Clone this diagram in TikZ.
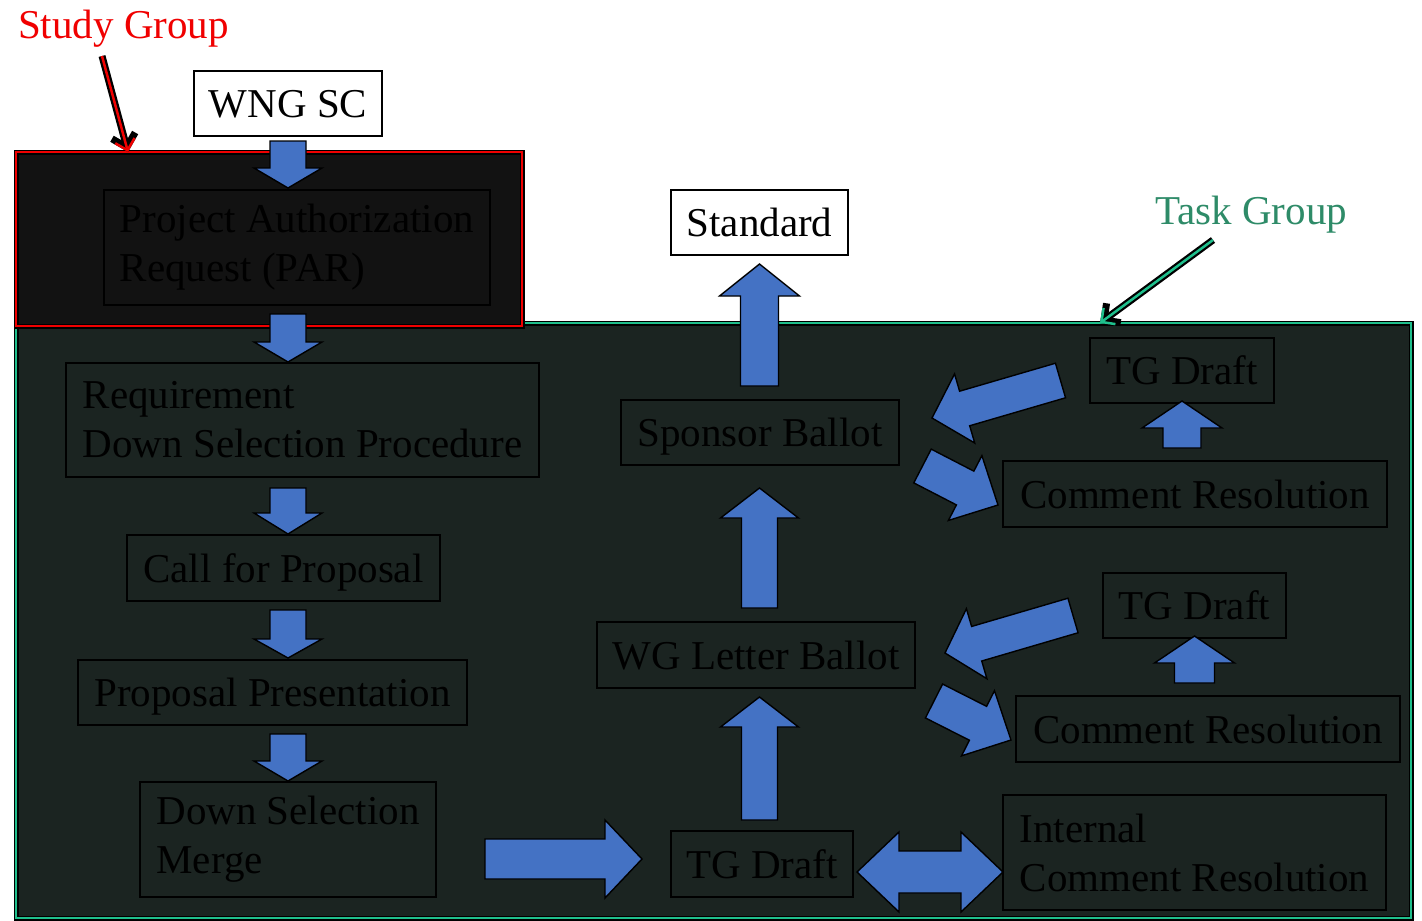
\documentclass[tikz,border=0pt]{standalone}
\usepackage{fontspec}
\setmainfont{Liberation Serif}
\usetikzlibrary{calc,arrows.meta}

\definecolor{arrowblue}{HTML}{4472C4}
\definecolor{tgfill}{HTML}{1B2421}
\definecolor{sgfill}{HTML}{121212}
\definecolor{tgline}{HTML}{1FBF8C}
\definecolor{tgtext}{HTML}{2E8B68}
\definecolor{sgred}{HTML}{F00000}

\tikzset{
  groupregion/.style={draw=black, line width=5pt, anchor=north west, inner sep=0pt, outer sep=0pt},
  stepbox/.style={draw=black, line width=1.6pt, anchor=north west, outer sep=0pt,
    inner xsep=14pt, inner ysep=0pt, text=black, font=\fontsize{41}{49}\selectfont},
  boxsize/.style 2 args={minimum width=#1pt, minimum height=#2pt},
  oneline/.style={text height=38pt, text depth=10pt},
  multiline/.style={align=left, execute at begin node={\rule{0pt}{36pt}}},
  grouplabel/.style={anchor=base west, inner sep=0pt, font=\fontsize{41}{49}\selectfont},
  blockarrowstyle/.style={fill=arrowblue, draw=black, line width=1.4pt, line join=miter},
  pointershadow/.style={black, line width=7pt, -{Straight Barb[length=12pt, width=24pt]}},
  pointer/.style={line width=2.5pt, -{Straight Barb[length=10pt, width=20pt]}}
}

% block arrow: tail, tip, half shaft width, half head width, head length
\newcommand\blockarrow[5]{%
  \coordinate (ba-h) at ($(#2)!#5!(#1)$);
  \filldraw[blockarrowstyle]
    ($(#1)!#3!90:(#2)$) -- ($(ba-h)!#3!90:(#2)$) -- ($(ba-h)!#4!90:(#2)$) -- (#2)
    -- ($(ba-h)!#4!-90:(#2)$) -- ($(ba-h)!#3!-90:(#2)$) -- ($(#1)!#3!-90:(#2)$) -- cycle;
}
% two-headed block arrow: end A, end B, half shaft width, half head width, head length
\newcommand\doubleblockarrow[5]{%
  \coordinate (da-a) at ($(#1)!#5!(#2)$);
  \coordinate (da-b) at ($(#2)!#5!(#1)$);
  \filldraw[blockarrowstyle]
    (#1) -- ($(da-a)!#4!90:(#2)$) -- ($(da-a)!#3!90:(#2)$) -- ($(da-b)!#3!90:(#2)$)
    -- ($(da-b)!#4!90:(#2)$) -- (#2) -- ($(da-b)!#4!-90:(#2)$) -- ($(da-b)!#3!-90:(#2)$)
    -- ($(da-a)!#3!-90:(#2)$) -- ($(da-a)!#4!-90:(#2)$) -- cycle;
}

\begin{document}
\begin{tikzpicture}[x=1pt, y=-1pt]
\useasboundingbox (0,0) rectangle (1422,921);
\fill[white] (0,0) rectangle (1422,921);

% group regions
\node[groupregion, fill=tgfill, boxsize={1395}{595}] (tg) at (16,323) {};
\draw[tgline, line width=2pt] (tg.north west) rectangle (tg.south east);
\node[groupregion, fill=sgfill, boxsize={506}{174}] (sg) at (16,152) {};
\draw[sgred, line width=2pt] (sg.north west) rectangle (sg.south east);

% group labels and pointers
\node[grouplabel, text=sgred] (sglabel) at (18,38) {Study Group};
\node[grouplabel, text=tgtext] (tglabel) at (1155,224) {Task Group};
\coordinate (sgfrom) at ($(sglabel.base west)+(84,18)$);
\coordinate (sgto) at ($(sg.north west)+(112,0)$);
\draw[pointershadow] (sgfrom) -- (sgto);
\draw[pointer, sgred] (sgfrom) -- (sgto);
\coordinate (tgfrom) at ($(tglabel.base west)+(58,16)$);
\coordinate (tgto) at ($(tg.north west)+(1084,0)$);
\draw[pointershadow] (tgfrom) -- (tgto);
\draw[pointer, tgline] (tgfrom) -- (tgto);

% process steps
\node[stepbox, oneline, fill=white, boxsize={188}{65}] (wng) at (194,71) {WNG SC};
\node[stepbox, multiline, boxsize={386}{115}] (par) at (104,190) {Project Authorization\\Request (PAR)};
\node[stepbox, multiline, boxsize={473}{114}] (req) at (66,363) {Requirement\\Down Selection Procedure};
\node[stepbox, oneline, boxsize={313}{66}] (cfp) at (127,535) {Call for Proposal};
\node[stepbox, oneline, boxsize={389}{65}] (pp) at (78,660) {Proposal Presentation};
\node[stepbox, multiline, boxsize={296}{115}] (dsm) at (140,782) {Down Selection\\Merge};
\node[stepbox, oneline, boxsize={182}{66}] (tgd) at (671,831) {TG Draft};
\node[stepbox, multiline, boxsize={383}{115}] (icr) at (1003,795) {Internal\\Comment Resolution};
\node[stepbox, oneline, boxsize={318}{66}] (wg) at (597,622) {WG Letter Ballot};
\node[stepbox, oneline, boxsize={278}{65}] (sb) at (621,400) {Sponsor Ballot};
\node[stepbox, oneline, fill=white, boxsize={177}{65}] (std) at (671,190) {Standard};
\node[stepbox, oneline, boxsize={184}{65}] (tga) at (1090,338) {TG Draft};
\node[stepbox, oneline, boxsize={384}{66}] (cra) at (1003,461) {Comment Resolution};
\node[stepbox, oneline, boxsize={183}{65}] (tgb) at (1103,573) {TG Draft};
\node[stepbox, oneline, boxsize={384}{66}] (crb) at (1016,696) {Comment Resolution};

% left column: downward flow
\coordinate (a1s) at ($(wng.south)+(0,5)$);
\coordinate (a1e) at ($(wng.south |- par.north)+(0,-2)$);
\coordinate (a2s) at ($(wng.south |- par.south)+(0,9)$);
\coordinate (a2e) at ($(wng.south |- req.north)+(0,-1)$);
\coordinate (a3s) at ($(wng.south |- req.south)+(0,11)$);
\coordinate (a3e) at ($(wng.south |- cfp.north)+(0,-1)$);
\coordinate (a4s) at ($(wng.south |- cfp.south)+(0,9)$);
\coordinate (a4e) at ($(wng.south |- pp.north)+(0,-2)$);
\coordinate (a5s) at ($(wng.south |- pp.south)+(0,9)$);
\coordinate (a5e) at ($(wng.south |- dsm.north)+(0,-1)$);
\blockarrow{a1s}{a1e}{18pt}{34pt}{20pt}
\blockarrow{a2s}{a2e}{18pt}{34pt}{20pt}
\blockarrow{a3s}{a3e}{18pt}{34pt}{21pt}
\blockarrow{a4s}{a4e}{18pt}{34pt}{19pt}
\blockarrow{a5s}{a5e}{18pt}{34pt}{20pt}

% merge into the task group draft
\coordinate (m1s) at ($(tgd.west)+(-186,-5)$);
\coordinate (m1e) at ($(tgd.west)+(-29,-5)$);
\blockarrow{m1s}{m1e}{20pt}{39pt}{37pt}

% draft <-> internal comment resolution
\coordinate (d1a) at ($(tgd.east)+(4,8)$);
\coordinate (d1b) at ($(icr.west)+(0,19.5)$);
\doubleblockarrow{d1a}{d1b}{21pt}{40pt}{42pt}

% middle column: upward flow
\coordinate (u1s) at ($(std.south |- tgd.north)+(0,-11)$);
\coordinate (u1e) at ($(std.south |- wg.south)+(0,9)$);
\coordinate (u2s) at ($(std.south |- wg.north)+(0,-14)$);
\coordinate (u2e) at ($(std.south |- sb.south)+(0,23)$);
\coordinate (u3s) at ($(std.south |- sb.north)+(0,-14)$);
\coordinate (u3e) at ($(std.south)+(0,9)$);
\blockarrow{u1s}{u1e}{18pt}{39pt}{30pt}
\blockarrow{u2s}{u2e}{18pt}{39pt}{30pt}
\blockarrow{u3s}{u3e}{19pt}{40pt}{32pt}

% ballot / comment resolution loops
\coordinate (s1s) at ($(tga.south |- cra.north)+(0,-13)$);
\coordinate (s1e) at ($(tga.south)+(0,-2)$);
\blockarrow{s1s}{s1e}{19pt}{40pt}{27pt}
\coordinate (s2s) at ($(tgb.south |- crb.north)+(0,-13)$);
\coordinate (s2e) at ($(tgb.south)+(0,-2)$);
\blockarrow{s2s}{s2e}{20pt}{40pt}{27pt}

\coordinate (l1s) at ($(tga.west)+(-29.5,10)$);
\coordinate (l1e) at ($(sb.east)+(33,-14.5)$);
\blockarrow{l1s}{l1e}{18pt}{36pt}{34pt}
\coordinate (r1s) at ($(sb.east)+(23.5,33.5)$);
\coordinate (r1e) at ($(cra.west)+(-5,11)$);
\blockarrow{r1s}{r1e}{19pt}{36.5pt}{37pt}

\coordinate (l2s) at ($(tgb.west)+(-30,10)$);
\coordinate (l2e) at ($(wg.east)+(30,-2)$);
\blockarrow{l2s}{l2e}{18pt}{36.5pt}{33pt}
\coordinate (r2s) at ($(wg.east)+(19,46)$);
\coordinate (r2e) at ($(crb.west)+(-5,11)$);
\blockarrow{r2s}{r2e}{19pt}{36.5pt}{37pt}
\end{tikzpicture}
\end{document}
